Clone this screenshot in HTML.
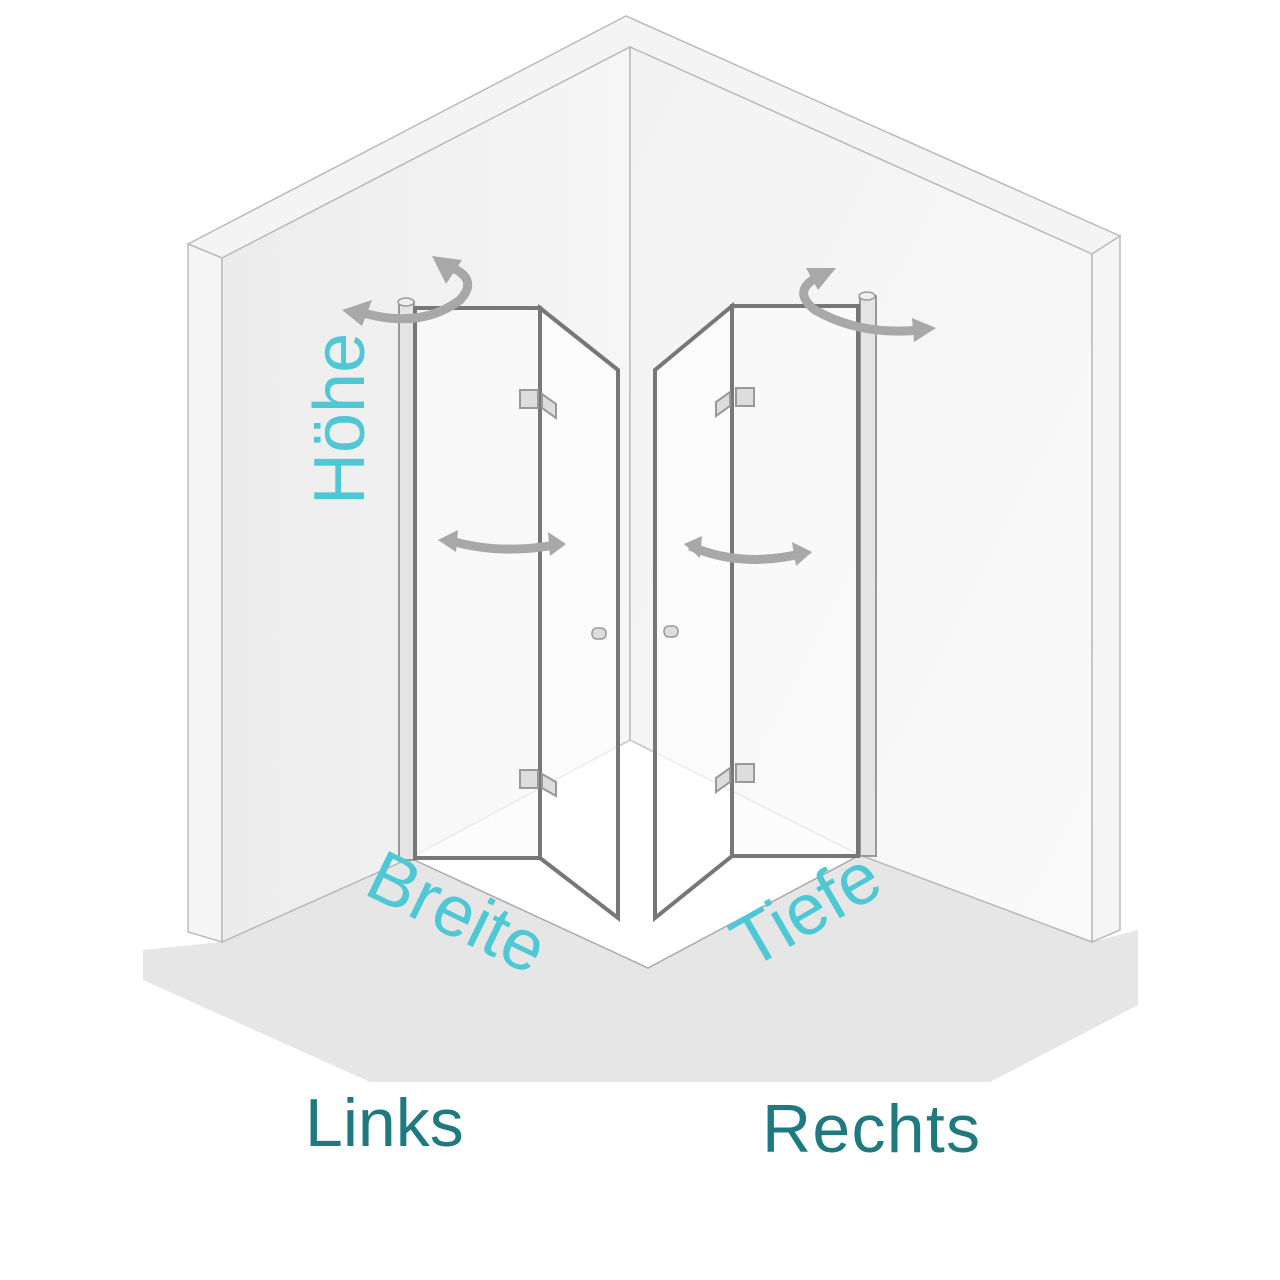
<!DOCTYPE html>
<html><head><meta charset="utf-8"><style>
html,body{margin:0;padding:0;background:#fff;width:1280px;height:1280px;overflow:hidden}
</style></head><body>
<svg width="1280" height="1280" viewBox="0 0 1280 1280" xmlns="http://www.w3.org/2000/svg">
<defs>
<linearGradient id="lw" x1="0" y1="0" x2="1" y2="0"><stop offset="0" stop-color="#ececec"/><stop offset="1" stop-color="#f6f6f6"/></linearGradient>
<linearGradient id="rw" x1="0" y1="0" x2="1" y2="1"><stop offset="0" stop-color="#f2f2f2"/><stop offset="1" stop-color="#fafafa"/></linearGradient>
</defs>
<polygon points="143,950 143,980 370,1082 990,1082 1138,1005 1138,930 1092,942 860,855 648,968 410,858 222,942" fill="#e6e6e6"/>
<polygon points="410,858 648,968 860,855 630,740" fill="#fff"/>
<polyline points="222,942 410,858" fill="none" stroke="#aaa" stroke-width="1.5"/>
<polyline points="410,858 648,968 860,855 1092,942" fill="none" stroke="#aaa" stroke-width="1.5"/>
<polygon points="188,244 626,16 1120,236 1092,254 630,47 222,258" fill="#f4f4f4" stroke="#bbb" stroke-width="1.5"/>
<polygon points="188,244 222,258 222,942 188,932" fill="#f5f5f5" stroke="#bbb" stroke-width="1.5"/>
<polygon points="222,258 630,47 630,740 410,858 222,942" fill="url(#lw)" stroke="#bbb" stroke-width="1.5"/>
<polygon points="630,47 1092,254 1092,942 860,855 630,740" fill="url(#rw)" stroke="#bbb" stroke-width="1.5"/>
<polygon points="1092,254 1120,236 1120,930 1092,942" fill="#f5f5f5" stroke="#bbb" stroke-width="1.5"/>
<line x1="630" y1="740" x2="410" y2="858" stroke="#ccc"/>
<line x1="630" y1="740" x2="860" y2="855" stroke="#ccc"/>
<rect x="399" y="302" width="15" height="558" fill="#e4e4e4" stroke="#999" stroke-width="2"/>
<ellipse cx="406" cy="302" rx="8" ry="4" fill="#eee" stroke="#999" stroke-width="1.5"/>
<polygon points="415,308 540,308 540,858 415,858" fill="#fbfbfb" fill-opacity="0.7" stroke="#777" stroke-width="4"/>
<polygon points="540,308 618,370 618,918 540,858" fill="#fdfdfd" fill-opacity="0.7" stroke="#777" stroke-width="4"/>
<rect x="520" y="390" width="18" height="18" fill="#ddd" stroke="#999" stroke-width="2"/>
<polygon points="542,394 556,404 556,418 542,408" fill="#ddd" stroke="#999" stroke-width="2"/>
<rect x="520" y="770" width="18" height="18" fill="#ddd" stroke="#999" stroke-width="2"/>
<polygon points="542,774 556,782 556,796 542,788" fill="#ddd" stroke="#999" stroke-width="2"/>
<rect x="592" y="628" width="14" height="11" rx="5" fill="#ddd" stroke="#999" stroke-width="1.5"/>
<rect x="860" y="296" width="16" height="560" fill="#e4e4e4" stroke="#999" stroke-width="2"/>
<ellipse cx="867" cy="296" rx="8" ry="4" fill="#eee" stroke="#999" stroke-width="1.5"/>
<polygon points="732,306 858,306 858,856 732,856" fill="#fbfbfb" fill-opacity="0.7" stroke="#777" stroke-width="4"/>
<polygon points="655,370 732,306 732,856 655,918" fill="#fdfdfd" fill-opacity="0.7" stroke="#777" stroke-width="4"/>
<rect x="736" y="388" width="18" height="18" fill="#ddd" stroke="#999" stroke-width="2"/>
<polygon points="730,392 716,402 716,416 730,406" fill="#ddd" stroke="#999" stroke-width="2"/>
<rect x="736" y="764" width="18" height="18" fill="#ddd" stroke="#999" stroke-width="2"/>
<polygon points="730,768 716,778 716,792 730,782" fill="#ddd" stroke="#999" stroke-width="2"/>
<rect x="664" y="626" width="14" height="11" rx="5" fill="#ddd" stroke="#999" stroke-width="1.5"/>
<g fill="none" stroke="#a8a8a8" stroke-width="9">
<path d="M360,312 Q420,330 460,300 Q480,278 448,266"/>
<path d="M448,540 Q500,556 560,544"/>
<path d="M820,276 Q790,290 815,310 Q860,336 920,330"/>
<path d="M690,546 Q740,568 800,554"/>
</g>
<g fill="#a8a8a8">
<polygon points="342,310 372,300 362,326"/>
<polygon points="432,256 462,260 446,284"/>
<polygon points="438,540 458,530 456,552"/>
<polygon points="566,544 548,532 550,556"/>
<polygon points="836,268 806,268 818,290"/>
<polygon points="936,328 912,318 914,342"/>
<polygon points="812,552 792,542 796,566"/>
<polygon points="684,544 702,536 700,558"/>
</g>
<g font-family="Liberation Sans, sans-serif" fill="#4ec8d4" font-size="72">
<text transform="translate(364,505) rotate(-90)">Höhe</text>
<text transform="translate(362,893) rotate(26)">Breite</text>
<text transform="translate(750,970) rotate(-30)">Tiefe</text>
</g>
<g font-family="Liberation Sans, sans-serif" fill="#1f7a80" font-size="68">
<text x="305" y="1146">Links</text>
<text x="762" y="1152" textLength="218">Rechts</text>
</g>
</svg>
</body></html>
